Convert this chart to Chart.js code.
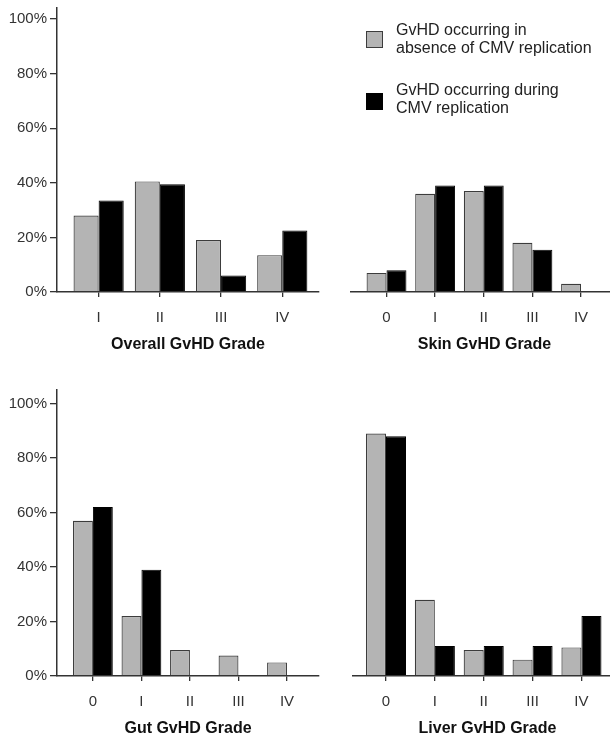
<!DOCTYPE html>
<html>
<head>
<meta charset="utf-8">
<script src="https://cdn.jsdelivr.net/npm/chart.js@4/dist/chart.umd.min.js"></script>
<style>
  html, body { margin: 0; padding: 0; background: #fff; }
  body { width: 610px; height: 737px; overflow: hidden; position: relative;
         font-family: "Liberation Sans", Arial, Helvetica, sans-serif; }
  canvas.panel { position: absolute; }
  .key { position: absolute; color: #222; font-size: 16px; line-height: 18px; white-space: nowrap; }
  .swatch { position: absolute; width: 15px; height: 15px; border: 1px solid #3c3c3c; }
</style>
</head>
<body>
<canvas class="panel" id="overall" width="330" height="360" style="left:0;top:0"></canvas>
<canvas class="panel" id="skin" width="288" height="360" style="left:330px;top:0"></canvas>
<canvas class="panel" id="gut" width="330" height="358" style="left:0;top:380px"></canvas>
<canvas class="panel" id="liver" width="292" height="358" style="left:330px;top:380px"></canvas>

<div class="swatch" style="left:366px;top:31px;background:#b4b4b4"></div>
<div class="key" style="left:396px;top:21px">GvHD occurring in<br>absence of CMV replication</div>
<div class="swatch" style="left:366px;top:93px;background:#000;border-color:#000"></div>
<div class="key" style="left:396px;top:81px">GvHD occurring during<br>CMV replication</div>

<script>
// Grade categories
const overallGrades = ['I', 'II', 'III', 'IV'];
const organGrades = ['0', 'I', 'II', 'III', 'IV'];

// Percentage of GvHD episodes per grade
const overallNoCMV = [28, 40.5, 19, 13.5];
const overallCMV   = [33.5, 39.5, 6, 22.5];
const skinNoCMV    = [7, 36, 37, 18, 3];
const skinCMV      = [8, 39, 39, 15.5, 0];
const gutNoCMV     = [57, 22, 9.5, 7.5, 5];
const gutCMV       = [62, 39, 0, 0, 0];
const liverNoCMV   = [89, 28, 9.5, 6, 10.5];
const liverCMV     = [88, 11, 11, 11, 22];

const seriesNames = ['GvHD occurring in absence of CMV replication', 'GvHD occurring during CMV replication'];

const FONT = '"Liberation Sans", Arial, Helvetica, sans-serif';
const AXIS = '#333';

function makePanel(id, grades, noCmv, cmv, title, cfg) {
  new Chart(document.getElementById(id), {
    type: 'bar',
    data: {
      datasets: [
        { label: seriesNames[0], data: grades.map((g, i) => ({ x: i, y: noCmv[i] })),
          backgroundColor: '#b4b4b4', borderColor: '#3c3c3c', borderWidth: 1.2 },
        { label: seriesNames[1], data: grades.map((g, i) => ({ x: i, y: cmv[i] })),
          backgroundColor: '#000', borderColor: '#000', borderWidth: 1 }
      ]
    },
    options: {
      responsive: false,
      animation: false,
      layout: { padding: { left: cfg.padLeft, right: cfg.padRight, top: cfg.padTop, bottom: 0 } },
      plugins: { legend: { display: false }, tooltip: { enabled: false } },
      datasets: { bar: { categoryPercentage: 0.82, barPercentage: 1 } },
      scales: {
        x: {
          type: 'linear', min: cfg.xMin, max: cfg.xMax, offset: false,
          grid: { display: true, offset: false, drawOnChartArea: false, drawTicks: true,
                  tickLength: 5, color: AXIS, lineWidth: 1.3 },
          border: { display: true, color: AXIS, width: 1.5, z: 1 },
          ticks: { stepSize: 1, includeBounds: false, autoSkip: false, maxRotation: 0,
                   padding: 12, color: AXIS, font: { size: 15, family: FONT },
                   callback: v => (grades[v] !== undefined ? grades[v] : '') },
          title: { display: true, text: title, color: '#111',
                   font: { size: 16, weight: 'bold', family: FONT }, padding: { top: 0, bottom: cfg.titlePad } },
          afterFit: s => { s.height = cfg.xHeight; s.paddingLeft = 0; s.paddingRight = 0; }
        },
        y: {
          min: 0, max: cfg.yMax, display: cfg.showY,
          grid: { drawOnChartArea: false, tickLength: 7, color: AXIS, lineWidth: 1.3 },
          border: { color: AXIS, width: 1.5, z: 1 },
          ticks: { stepSize: 20, includeBounds: false, padding: 3, color: AXIS,
                   font: { size: 15, family: FONT }, callback: v => v + '%' },
          afterFit: s => { s.width = cfg.yWidth; s.paddingTop = 0; s.paddingBottom = 0; }
        }
      }
    }
  });
}

makePanel('overall', overallGrades, overallNoCMV, overallCMV, 'Overall GvHD Grade',
  { xMin: -0.68, xMax: 3.6, yMax: 104, showY: true, yWidth: 57, padLeft: 0, padRight: 11, padTop: 8, xHeight: 68, titlePad: 6 });
makePanel('skin', organGrades, skinNoCMV, skinCMV, 'Skin GvHD Grade',
  { xMin: -0.73, xMax: 4.76, yMax: 104, showY: false, yWidth: 0, padLeft: 21, padRight: 0, padTop: 8, xHeight: 68, titlePad: 6 });
makePanel('gut', organGrades, gutNoCMV, gutCMV, 'Gut GvHD Grade',
  { xMin: -0.74, xMax: 4.66, yMax: 105, showY: true, yWidth: 57, padLeft: 0, padRight: 11, padTop: 10, xHeight: 62, titlePad: 0 });
makePanel('liver', organGrades, liverNoCMV, liverCMV, 'Liver GvHD Grade',
  { xMin: -0.675, xMax: 4.83, yMax: 105, showY: false, yWidth: 0, padLeft: 23, padRight: 0, padTop: 10, xHeight: 62, titlePad: 0 });
</script>
</body>
</html>
